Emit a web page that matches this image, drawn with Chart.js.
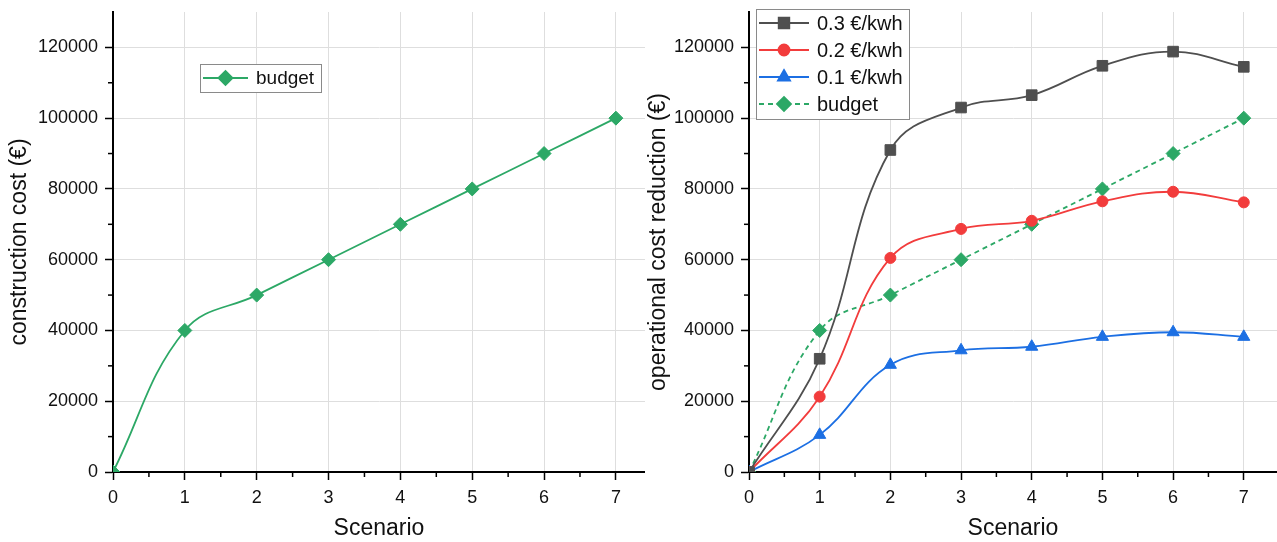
<!DOCTYPE html>
<html>
<head>
<meta charset="utf-8">
<script src="https://cdn.jsdelivr.net/npm/chart.js@4.4.1/dist/chart.umd.min.js"></script>
<style>
  body { margin: 0; background: #fff; }
  #wrap { position: relative; width: 1277px; height: 542px; }
  canvas { position: absolute; top: 0; }
</style>
</head>
<body>
<div id="wrap">
  <canvas id="leftChart" width="645" height="542" style="left:0;width:645px;height:542px"></canvas>
  <canvas id="rightChart" width="637" height="542" style="left:640px;width:637px;height:542px"></canvas>
</div>
<script>
// data
const scenarios = [0, 1, 2, 3, 4, 5, 6, 7];
const budget = [0, 40000, 50000, 60000, 70000, 80000, 90000, 100000];
const price03 = [0, 32000, 91000, 103000, 106500, 114800, 118800, 114500];
const price02 = [0, 21300, 60500, 68700, 71000, 76500, 79200, 76200];
const price01 = [0, 10500, 30300, 34400, 35400, 38200, 39500, 38200];
const yTicks = [0, 20000, 40000, 60000, 80000, 100000, 120000];

const FONT = 'Liberation Sans, Arial, sans-serif';
const GREEN = '#2ca866', GRAY = '#4f4f4f', RED = '#f23c3c', BLUE = '#1c6fe3';

function toPoints(vals) {
    return scenarios.map((s, i) => ({ x: s, y: vals[i] }));
}

function series(label, vals, color, style, radius, dashed) {
    return {
        label: label,
        data: toPoints(vals),
        borderColor: color,
        backgroundColor: color,
        borderWidth: 1.8,
        borderDash: dashed ? [5, 4] : [],
        pointStyle: style,
        pointRadius: radius,
        pointHoverRadius: radius,
        pointBorderWidth: 1,
        tension: 0.4
    };
}

// minor ticks + legend box drawn on top
const extras = {
    id: 'extras',
    afterDraw(chart, args, opts) {
        const ctx = chart.ctx;
        const x = chart.scales.x, y = chart.scales.y;
        ctx.save();
        ctx.strokeStyle = '#000';
        ctx.lineWidth = 1.5;
        for (let v = 0.5; v < x.max; v += 1) {
            const px = x.getPixelForValue(v);
            ctx.beginPath(); ctx.moveTo(px, y.bottom); ctx.lineTo(px, y.bottom + 5); ctx.stroke();
        }
        for (let v = 10000; v < y.max; v += 20000) {
            const py = y.getPixelForValue(v);
            ctx.beginPath(); ctx.moveTo(x.left, py); ctx.lineTo(x.left - 5, py); ctx.stroke();
        }
        // legend
        const L = opts.box;
        ctx.fillStyle = '#fff';
        ctx.fillRect(L.x, L.y, L.w, L.h);
        ctx.strokeStyle = '#8a8a8a';
        ctx.lineWidth = 1;
        ctx.strokeRect(L.x + 0.5, L.y + 0.5, L.w, L.h);
        ctx.font = L.font + 'px ' + FONT;
        ctx.textBaseline = 'middle';
        chart.data.datasets.forEach((ds, i) => {
            const cy = L.y + L.first + i * L.step;
            ctx.strokeStyle = ds.borderColor;
            ctx.lineWidth = 1.8;
            ctx.setLineDash(ds.borderDash);
            ctx.beginPath(); ctx.moveTo(L.x + 3, cy); ctx.lineTo(L.x + 3 + L.line, cy); ctx.stroke();
            ctx.setLineDash([]);
            ctx.fillStyle = ds.backgroundColor;
            Chart.helpers.drawPoint(ctx, { pointStyle: ds.pointStyle, radius: ds.pointRadius, rotation: 0, borderWidth: 1 },
                L.x + 3 + L.line / 2, cy);
            ctx.fillStyle = '#111';
            ctx.fillText(ds.label, L.x + L.line + 11, cy + 1);
        });
        ctx.restore();
    }
};

function makeOptions(yTitle, xMax, yWidth, titlePad, legendBox) {
    return {
        responsive: false,
        animation: false,
        layout: { autoPadding: false, padding: { top: 12, right: 0, left: 0, bottom: 0 } },
        plugins: {
            legend: { display: false },
            tooltip: { enabled: false },
            extras: { box: legendBox }
        },
        scales: {
            x: {
                type: 'linear',
                min: 0,
                max: xMax,
                afterFit: s => { s.height = 70; s.paddingRight = 0; s.paddingLeft = 0; },
                ticks: {
                    stepSize: 1,
                    includeBounds: false,
                    color: '#111',
                    font: { family: FONT, size: 18 },
                    padding: 7,
                    maxRotation: 0,
                    callback: v => String(v)
                },
                grid: { color: '#dedede', lineWidth: 1, tickLength: 8, tickColor: '#000', tickWidth: 1.5 },
                border: { color: '#000', width: 2 },
                title: { display: true, text: 'Scenario', color: '#111', font: { family: FONT, size: 23 }, padding: { top: 0, bottom: 0 } }
            },
            y: {
                min: 0,
                max: 130000,
                afterFit: s => { s.width = yWidth; s.paddingTop = 0; s.paddingBottom = 0; },
                afterBuildTicks: s => { s.ticks = yTicks.map(v => ({ value: v })); },
                ticks: {
                    color: '#111',
                    font: { family: FONT, size: 18 },
                    padding: 7,
                    callback: v => String(v)
                },
                grid: { color: '#dedede', lineWidth: 1, tickLength: 8, tickColor: '#000', tickWidth: 1.5 },
                border: { color: '#000', width: 2 },
                title: { display: true, text: yTitle, color: '#111', font: { family: FONT, size: 23 }, padding: { top: titlePad, bottom: 0 } }
            }
        }
    };
}

new Chart(document.getElementById('leftChart').getContext('2d'), {
    type: 'line',
    data: {
        datasets: [series('budget', budget, GREEN, 'rectRot', 7, false)]
    },
    options: makeOptions('construction cost (€)', 7.405, 113, 6,
        { x: 200, y: 64, w: 121, h: 28, first: 14, step: 27, line: 45, font: 19 }),
    plugins: [extras]
});

new Chart(document.getElementById('rightChart').getContext('2d'), {
    type: 'line',
    data: {
        datasets: [
            series('0.3 €/kwh', price03, GRAY, 'rect', 7.5, false),
            series('0.2 €/kwh', price02, RED, 'circle', 5.5, false),
            series('0.1 €/kwh', price01, BLUE, 'triangle', 7, false),
            series('budget', budget, GREEN, 'rectRot', 7, true)
        ]
    },
    options: makeOptions('operational cost reduction (€)', 7.47, 109, 5,
        { x: 116, y: 9, w: 153, h: 110, first: 14, step: 27, line: 50, font: 20 }),
    plugins: [extras]
});
</script>
</body>
</html>
